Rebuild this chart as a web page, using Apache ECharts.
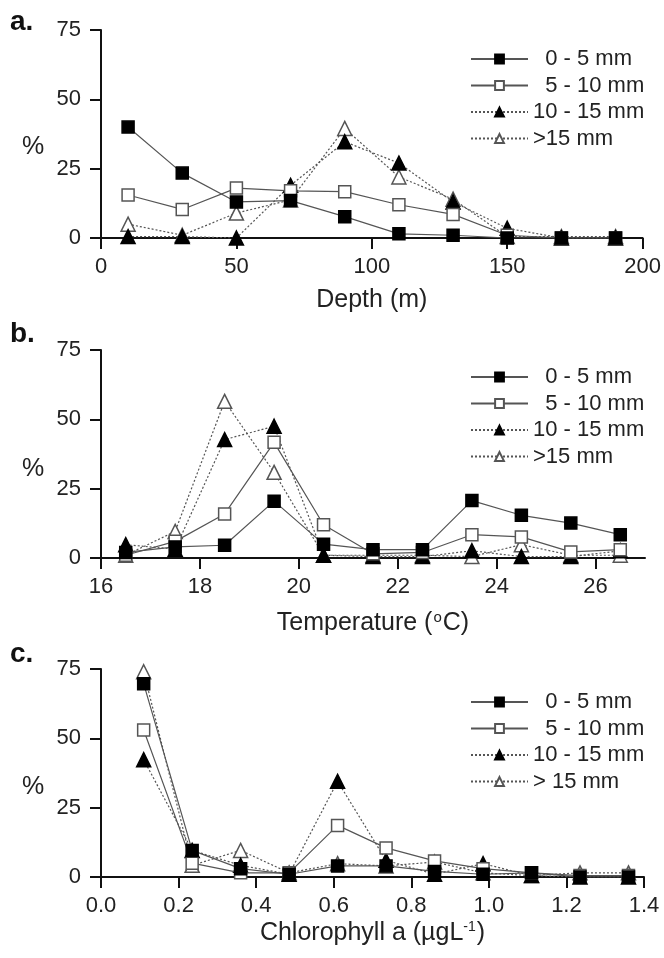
<!DOCTYPE html>
<html>
<head>
<meta charset="utf-8">
<script src="https://cdn.jsdelivr.net/npm/echarts@6/dist/echarts.min.js"></script>
<style>
  html, body { margin: 0; padding: 0; background: #fff; }
  #chart { width: 664px; height: 958px; }
</style>
</head>
<body>
<div id="chart"></div>
<script>
// panel a: depth
const depthX = [10, 30, 50, 70, 90, 110, 130, 150, 170, 190];
const depth05 = [40, 23.4, 13, 13.5, 7.7, 1.5, 1, 0, 0, 0];
const depth510 = [15.5, 10.3, 18, 17, 16.7, 12, 8.5, 1, 0, 0];
const depth1015 = [0.5, 0.5, 0, 19, 34.7, 27, 13, 3.5, 0, 0];
const depth15 = [5, 1, 9, 13.7, 39.5, 22, 14, 0.5, 0.5, 0.5];

// panel b: temperature
const tempX = [16.5, 17.5, 18.5, 19.5, 20.5, 21.5, 22.5, 23.5, 24.5, 25.5, 26.5];
const temp05 = [2, 4, 4.6, 20.5, 5, 3, 3, 20.7, 15.4, 12.6, 8.4];
const temp510 = [1, 6, 15.9, 41.7, 12, 1.5, 2, 8.4, 7.6, 2.2, 3];
const temp1015 = [4.8, 3.2, 42.7, 47.5, 1, 0.5, 0.5, 2.6, 0.5, 0.5, 2.6];
const temp15 = [1, 9.6, 56.5, 30.9, 1, 1, 1, 0.5, 4.8, 1, 1];

// panel c: chlorophyll
const chlX = [0.11, 0.235, 0.36, 0.485, 0.61, 0.735, 0.86, 0.985, 1.11, 1.235, 1.36];
const chl05 = [69.7, 9.6, 3, 1, 4, 4, 2, 1, 1.5, 0, 0];
const chl510 = [53, 5, 1.5, 1.5, 18.6, 10.5, 5.8, 3, 1.5, 0.5, 0.5];
const chl1015 = [42.3, 9.6, 4.2, 1, 34.5, 6, 1, 4.8, 0.5, 0, 0];
const chl15 = [74, 4.2, 9.6, 1.5, 4.8, 4, 5.4, 1.5, 0.5, 1.5, 1.5];

const sizeNames = ['0 - 5 mm', '5 - 10 mm', '10 - 15 mm', '>15 mm'];
const sizeNamesC = ['0 - 5 mm', '5 - 10 mm', '10 - 15 mm', '> 15 mm'];
const tempTicks = [16, 18, 20, 22, 24, 26];

const FONT = '"Liberation Sans", Arial, sans-serif';

const styles = [
  { symbol: 'rect', symbolSize: 12, fill: '#000', border: '#000', dash: 'solid' },
  { symbol: 'rect', symbolSize: 12, fill: '#fff', border: '#555', dash: 'solid' },
  { symbol: 'triangle', symbolSize: 14, fill: '#000', border: '#000', dash: [2, 2] },
  { symbol: 'triangle', symbolSize: 14, fill: '#fff', border: '#555', dash: [2, 2] }
];

const makeSeries = (name, xs, ys, k, panel) => ({
  name,
  type: 'line',
  xAxisIndex: panel,
  yAxisIndex: panel,
  data: xs.map((x, i) => [x, ys[i]]),
  symbol: styles[k].symbol,
  symbolSize: styles[k].symbolSize,
  itemStyle: { color: styles[k].fill, borderColor: styles[k].border, borderWidth: 1.5 },
  lineStyle: { color: '#555', width: 1.2, type: styles[k].dash },
  z: 10 - k,
  animation: false
});

const grids = [
  { left: 101, right: 20, top: 30, height: 208 },
  { left: 101, right: 19, top: 350, height: 208 },
  { left: 101, right: 20, top: 669, height: 208 }
];

const axisCommon = {
  axisLine: { lineStyle: { color: '#111', width: 2 } },
  axisTick: { length: 11, lineStyle: { color: '#111', width: 2 } },
  axisLabel: { color: '#222', fontSize: 22, fontFamily: FONT },
  splitLine: { show: false },
  nameTextStyle: { color: '#222', fontSize: 25, fontFamily: FONT }
};

const xAxes = [
  {
    ...axisCommon, type: 'value', gridIndex: 0, min: 0, max: 200, interval: 50,
    axisLabel: { ...axisCommon.axisLabel, margin: 18 },
    name: 'Depth (m)', nameLocation: 'middle', nameGap: 50
  },
  {
    ...axisCommon, type: 'value', gridIndex: 1, min: 16, max: 27, interval: 2,
    axisTick: { ...axisCommon.axisTick, customValues: tempTicks },
    axisLabel: { ...axisCommon.axisLabel, margin: 18, customValues: tempTicks },
    name: 'Temperature ({sup|o}C)', nameLocation: 'middle', nameGap: 52,
    nameTextStyle: {
      ...axisCommon.nameTextStyle,
      rich: { sup: { fontSize: 15, fontFamily: FONT, color: '#222', verticalAlign: 'top', padding: [0, 1, 12, 1] } }
    }
  },
  {
    ...axisCommon, type: 'value', gridIndex: 2, min: 0, max: 1.4, interval: 0.2,
    axisLabel: { ...axisCommon.axisLabel, margin: 18, formatter: v => v.toFixed(1) },
    name: 'Chlorophyll a (\u00b5gL{sup|-1})', nameLocation: 'middle', nameGap: 43,
    nameTextStyle: {
      ...axisCommon.nameTextStyle,
      rich: { sup: { fontSize: 14, fontFamily: FONT, color: '#222', verticalAlign: 'top', padding: [0, 1, 12, 0] } }
    }
  }
];

const yAxes = [0, 1, 2].map(i => ({
  ...axisCommon, type: 'value', gridIndex: i, min: 0, max: 75, interval: 25,
  axisLabel: { ...axisCommon.axisLabel, margin: 20 }
}));

const legendTops = [43, 361, 686];
const legends = legendTops.map((top, i) => ({
  data: i === 2 ? sizeNamesC : sizeNames,
  orient: 'vertical',
  left: 465,
  top,
  itemWidth: 57,
  itemHeight: 11,
  itemGap: 4.5,
  selectedMode: false,
  formatter: name => (name === '0 - 5 mm' || name === '5 - 10 mm' ? '  ' + name : name),
  textStyle: { color: '#222', fontSize: 22, fontFamily: FONT, lineHeight: 22 }
}));

const series = [
  ...[depth05, depth510, depth1015, depth15].map((ys, k) => makeSeries(sizeNames[k], depthX, ys, k, 0)),
  ...[temp05, temp510, temp1015, temp15].map((ys, k) => makeSeries(sizeNames[k], tempX, ys, k, 1)),
  ...[chl05, chl510, chl1015, chl15].map((ys, k) => makeSeries(sizeNamesC[k], chlX, ys, k, 2))
];

const panelLabels = [['a.', 8], ['b.', 320], ['c.', 640]];
const pctY = [148, 470, 788];

const graphic = [
  ...panelLabels.map(([t, y]) => ({
    type: 'text', left: 10, top: y,
    style: { text: t, fontSize: 28, fontWeight: 'bold', fontFamily: FONT, fill: '#111' }
  })),
  ...pctY.map(y => ({
    type: 'text', left: 22, top: y - 13,
    style: { text: '%', fontSize: 25, fontFamily: FONT, fill: '#222' }
  }))
];

const chart = echarts.init(document.getElementById('chart'));
chart.setOption({
  backgroundColor: '#fff',
  animation: false,
  grid: grids,
  xAxis: xAxes,
  yAxis: yAxes,
  legend: legends,
  graphic,
  series
});
</script>
</body>
</html>
